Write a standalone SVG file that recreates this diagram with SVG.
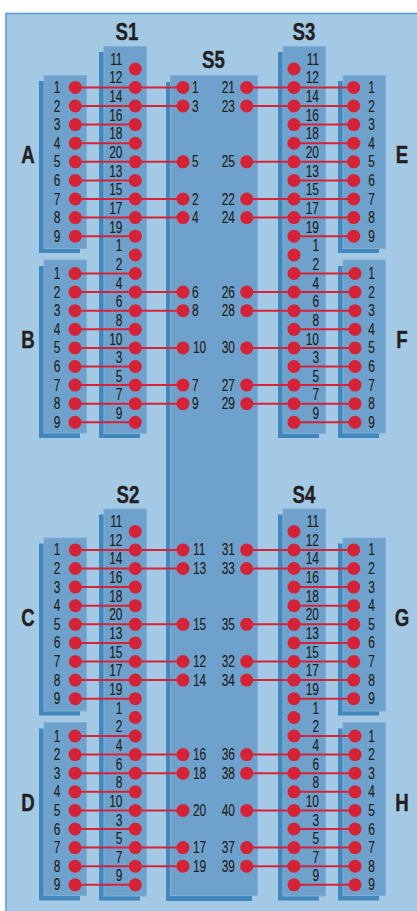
<svg xmlns="http://www.w3.org/2000/svg" width="417" height="911" viewBox="0 0 417 911">
<style>
.sh{fill:#4388bd}
.fr{fill:#6ea2cc;stroke:#7fafd6;stroke-width:1}
.d{fill:#d62237}
text{font-family:"Liberation Sans",Arial,sans-serif;fill:#231f20;transform-box:fill-box;stroke:#231f20;stroke-width:.2}
.n text{font-size:17px;text-anchor:middle;transform-origin:center;transform:scaleX(.7)}
.c text{font-size:17px;text-anchor:end;transform-origin:right center;transform:scaleX(.7)}
.l text{font-size:17px;text-anchor:start;transform-origin:left center;transform:scaleX(.7)}
.l .r text{text-anchor:end;transform-origin:right center}
g text.h{font-size:24.5px;font-weight:700;text-anchor:middle;transform-origin:center;transform:scaleX(.76);stroke-width:.4}
#connectors line{stroke:#d62237;stroke-width:2}
</style>
<rect width="417" height="911" fill="#fff"/>
<rect x="6" y="13.5" width="420" height="910" fill="#a4c9e4" stroke="#5b9dd0" stroke-width="1.6"/>
<g id="S5" class="l">
<rect class="sh" x="166" y="82" width="86" height="819"/>
<rect class="fr" x="170.5" y="75.5" width="87" height="820"/>
<text class="h" x="213.5" y="68.5">S5</text>
<circle class="d" cx="183" cy="87.4" r="6.5"/><circle class="d" cx="183" cy="106" r="6.5"/><circle class="d" cx="183" cy="161.8" r="6.5"/><circle class="d" cx="183" cy="199" r="6.5"/><circle class="d" cx="183" cy="217.6" r="6.5"/><circle class="d" cx="183" cy="292.1" r="6.5"/><circle class="d" cx="183" cy="310.7" r="6.5"/><circle class="d" cx="183" cy="347.9" r="6.5"/><circle class="d" cx="183" cy="385.1" r="6.5"/><circle class="d" cx="183" cy="403.7" r="6.5"/><circle class="d" cx="183" cy="549.9" r="6.5"/><circle class="d" cx="183" cy="568.5" r="6.5"/><circle class="d" cx="183" cy="624.3" r="6.5"/><circle class="d" cx="183" cy="661.5" r="6.5"/><circle class="d" cx="183" cy="680.1" r="6.5"/><circle class="d" cx="183" cy="754.6" r="6.5"/><circle class="d" cx="183" cy="773.2" r="6.5"/><circle class="d" cx="183" cy="810.4" r="6.5"/><circle class="d" cx="183" cy="847.6" r="6.5"/><circle class="d" cx="183" cy="866.2" r="6.5"/>
<circle class="d" cx="246.7" cy="87.4" r="6.5"/><circle class="d" cx="246.7" cy="106" r="6.5"/><circle class="d" cx="246.7" cy="161.8" r="6.5"/><circle class="d" cx="246.7" cy="199" r="6.5"/><circle class="d" cx="246.7" cy="217.6" r="6.5"/><circle class="d" cx="246.7" cy="292.1" r="6.5"/><circle class="d" cx="246.7" cy="310.7" r="6.5"/><circle class="d" cx="246.7" cy="347.9" r="6.5"/><circle class="d" cx="246.7" cy="385.1" r="6.5"/><circle class="d" cx="246.7" cy="403.7" r="6.5"/><circle class="d" cx="246.7" cy="549.9" r="6.5"/><circle class="d" cx="246.7" cy="568.5" r="6.5"/><circle class="d" cx="246.7" cy="624.3" r="6.5"/><circle class="d" cx="246.7" cy="661.5" r="6.5"/><circle class="d" cx="246.7" cy="680.1" r="6.5"/><circle class="d" cx="246.7" cy="754.6" r="6.5"/><circle class="d" cx="246.7" cy="773.2" r="6.5"/><circle class="d" cx="246.7" cy="810.4" r="6.5"/><circle class="d" cx="246.7" cy="847.6" r="6.5"/><circle class="d" cx="246.7" cy="866.2" r="6.5"/>
<text x="192" y="93">1</text><text x="192" y="111.6">3</text><text x="192" y="167.4">5</text><text x="192" y="204.6">2</text><text x="192" y="223.2">4</text><text x="192" y="297.7">6</text><text x="192" y="316.3">8</text><text x="193" y="353.5">10</text><text x="192" y="390.7">7</text><text x="192" y="409.3">9</text><text x="193" y="555.5">11</text><text x="193" y="574.1">13</text><text x="193" y="629.9">15</text><text x="193" y="667.1">12</text><text x="193" y="685.7">14</text><text x="193" y="760.2">16</text><text x="193" y="778.8">18</text><text x="193" y="816">20</text><text x="193" y="853.2">17</text><text x="193" y="871.8">19</text>
<g class="r"><text x="235" y="93">21</text><text x="235" y="111.6">23</text><text x="235" y="167.4">25</text><text x="235" y="204.6">22</text><text x="235" y="223.2">24</text><text x="235" y="297.7">26</text><text x="235" y="316.3">28</text><text x="235" y="353.5">30</text><text x="235" y="390.7">27</text><text x="235" y="409.3">29</text><text x="235" y="555.5">31</text><text x="235" y="574.1">33</text><text x="235" y="629.9">35</text><text x="235" y="667.1">32</text><text x="235" y="685.7">34</text><text x="235" y="760.2">36</text><text x="235" y="778.8">38</text><text x="235" y="816">40</text><text x="235" y="853.2">37</text><text x="235" y="871.8">39</text></g>
</g>
<g id="S1" class="c">
<rect class="sh" x="99" y="52" width="41" height="386"/>
<rect class="fr" x="104" y="46.5" width="42.5" height="387"/>
<text class="h" x="127" y="40.5">S1</text>
<text x="122.5" y="65">11</text><text x="122.5" y="83.4">12</text><text x="122.5" y="102">14</text><text x="122.5" y="120.8">16</text><text x="122.5" y="139.4">18</text><text x="122.5" y="158">20</text><text x="122.5" y="176.8">13</text><text x="122.5" y="195.4">15</text><text x="122.5" y="214">17</text><text x="122.5" y="232.8">19</text><text x="122.5" y="251.4">1</text><text x="122.5" y="270">2</text><text x="122.5" y="288.7">4</text><text x="122.5" y="307.3">6</text><text x="122.5" y="326">8</text><text x="122.5" y="344.6">10</text><text x="122.5" y="363.2">3</text><text x="122.5" y="381.8">5</text><text x="122.5" y="400.4">7</text><text x="122.5" y="419">9</text>
<circle class="d" cx="135.3" cy="69" r="6.5"/><circle class="d" cx="135.3" cy="87.4" r="6.5"/><circle class="d" cx="135.3" cy="106" r="6.5"/><circle class="d" cx="135.3" cy="124.6" r="6.5"/><circle class="d" cx="135.3" cy="143.2" r="6.5"/><circle class="d" cx="135.3" cy="161.8" r="6.5"/><circle class="d" cx="135.3" cy="180.4" r="6.5"/><circle class="d" cx="135.3" cy="199" r="6.5"/><circle class="d" cx="135.3" cy="217.6" r="6.5"/><circle class="d" cx="135.3" cy="236.2" r="6.5"/><circle class="d" cx="135.3" cy="255" r="6.5"/><circle class="d" cx="135.3" cy="273.5" r="6.5"/><circle class="d" cx="135.3" cy="292.1" r="6.5"/><circle class="d" cx="135.3" cy="310.7" r="6.5"/><circle class="d" cx="135.3" cy="329.3" r="6.5"/><circle class="d" cx="135.3" cy="347.9" r="6.5"/><circle class="d" cx="135.3" cy="366.5" r="6.5"/><circle class="d" cx="135.3" cy="385.1" r="6.5"/><circle class="d" cx="135.3" cy="403.7" r="6.5"/><circle class="d" cx="135.3" cy="422.3" r="6.5"/>
</g>
<g id="S3" class="c">
<rect class="sh" x="278" y="52" width="41" height="386"/>
<rect class="fr" x="283" y="46.5" width="42.5" height="387"/>
<text class="h" x="304" y="40.5">S3</text>
<text x="319" y="65">11</text><text x="319" y="83.4">12</text><text x="319" y="102">14</text><text x="319" y="120.8">16</text><text x="319" y="139.4">18</text><text x="319" y="158">20</text><text x="319" y="176.8">13</text><text x="319" y="195.4">15</text><text x="319" y="214">17</text><text x="319" y="232.8">19</text><text x="319" y="251.4">1</text><text x="319" y="270">2</text><text x="319" y="288.7">4</text><text x="319" y="307.3">6</text><text x="319" y="326">8</text><text x="319" y="344.6">10</text><text x="319" y="363.2">3</text><text x="319" y="381.8">5</text><text x="319" y="400.4">7</text><text x="319" y="419">9</text>
<circle class="d" cx="294" cy="69" r="6.5"/><circle class="d" cx="294" cy="87.4" r="6.5"/><circle class="d" cx="294" cy="106" r="6.5"/><circle class="d" cx="294" cy="124.6" r="6.5"/><circle class="d" cx="294" cy="143.2" r="6.5"/><circle class="d" cx="294" cy="161.8" r="6.5"/><circle class="d" cx="294" cy="180.4" r="6.5"/><circle class="d" cx="294" cy="199" r="6.5"/><circle class="d" cx="294" cy="217.6" r="6.5"/><circle class="d" cx="294" cy="236.2" r="6.5"/><circle class="d" cx="294" cy="255" r="6.5"/><circle class="d" cx="294" cy="273.5" r="6.5"/><circle class="d" cx="294" cy="292.1" r="6.5"/><circle class="d" cx="294" cy="310.7" r="6.5"/><circle class="d" cx="294" cy="329.3" r="6.5"/><circle class="d" cx="294" cy="347.9" r="6.5"/><circle class="d" cx="294" cy="366.5" r="6.5"/><circle class="d" cx="294" cy="385.1" r="6.5"/><circle class="d" cx="294" cy="403.7" r="6.5"/><circle class="d" cx="294" cy="422.3" r="6.5"/>
</g>
<g id="S2" class="c">
<rect class="sh" x="99" y="514.5" width="41" height="386"/>
<rect class="fr" x="104" y="509" width="42.5" height="387"/>
<text class="h" x="128" y="503">S2</text>
<text x="122.5" y="527.5">11</text><text x="122.5" y="545.9">12</text><text x="122.5" y="564.5">14</text><text x="122.5" y="583.3">16</text><text x="122.5" y="601.9">18</text><text x="122.5" y="620.5">20</text><text x="122.5" y="639.3">13</text><text x="122.5" y="657.9">15</text><text x="122.5" y="676.5">17</text><text x="122.5" y="695.3">19</text><text x="122.5" y="713.9">1</text><text x="122.5" y="732.5">2</text><text x="122.5" y="751.2">4</text><text x="122.5" y="769.8">6</text><text x="122.5" y="788.5">8</text><text x="122.5" y="807.1">10</text><text x="122.5" y="825.7">3</text><text x="122.5" y="844.3">5</text><text x="122.5" y="862.9">7</text><text x="122.5" y="881.5">9</text>
<circle class="d" cx="135.3" cy="531.5" r="6.5"/><circle class="d" cx="135.3" cy="549.9" r="6.5"/><circle class="d" cx="135.3" cy="568.5" r="6.5"/><circle class="d" cx="135.3" cy="587.1" r="6.5"/><circle class="d" cx="135.3" cy="605.7" r="6.5"/><circle class="d" cx="135.3" cy="624.3" r="6.5"/><circle class="d" cx="135.3" cy="642.9" r="6.5"/><circle class="d" cx="135.3" cy="661.5" r="6.5"/><circle class="d" cx="135.3" cy="680.1" r="6.5"/><circle class="d" cx="135.3" cy="698.7" r="6.5"/><circle class="d" cx="135.3" cy="717.5" r="6.5"/><circle class="d" cx="135.3" cy="736" r="6.5"/><circle class="d" cx="135.3" cy="754.6" r="6.5"/><circle class="d" cx="135.3" cy="773.2" r="6.5"/><circle class="d" cx="135.3" cy="791.8" r="6.5"/><circle class="d" cx="135.3" cy="810.4" r="6.5"/><circle class="d" cx="135.3" cy="829" r="6.5"/><circle class="d" cx="135.3" cy="847.6" r="6.5"/><circle class="d" cx="135.3" cy="866.2" r="6.5"/><circle class="d" cx="135.3" cy="884.8" r="6.5"/>
</g>
<g id="S4" class="c">
<rect class="sh" x="278" y="514.5" width="41" height="386"/>
<rect class="fr" x="283" y="509" width="42.5" height="387"/>
<text class="h" x="304" y="503">S4</text>
<text x="319" y="527.5">11</text><text x="319" y="545.9">12</text><text x="319" y="564.5">14</text><text x="319" y="583.3">16</text><text x="319" y="601.9">18</text><text x="319" y="620.5">20</text><text x="319" y="639.3">13</text><text x="319" y="657.9">15</text><text x="319" y="676.5">17</text><text x="319" y="695.3">19</text><text x="319" y="713.9">1</text><text x="319" y="732.5">2</text><text x="319" y="751.2">4</text><text x="319" y="769.8">6</text><text x="319" y="788.5">8</text><text x="319" y="807.1">10</text><text x="319" y="825.7">3</text><text x="319" y="844.3">5</text><text x="319" y="862.9">7</text><text x="319" y="881.5">9</text>
<circle class="d" cx="294" cy="531.5" r="6.5"/><circle class="d" cx="294" cy="549.9" r="6.5"/><circle class="d" cx="294" cy="568.5" r="6.5"/><circle class="d" cx="294" cy="587.1" r="6.5"/><circle class="d" cx="294" cy="605.7" r="6.5"/><circle class="d" cx="294" cy="624.3" r="6.5"/><circle class="d" cx="294" cy="642.9" r="6.5"/><circle class="d" cx="294" cy="661.5" r="6.5"/><circle class="d" cx="294" cy="680.1" r="6.5"/><circle class="d" cx="294" cy="698.7" r="6.5"/><circle class="d" cx="294" cy="717.5" r="6.5"/><circle class="d" cx="294" cy="736" r="6.5"/><circle class="d" cx="294" cy="754.6" r="6.5"/><circle class="d" cx="294" cy="773.2" r="6.5"/><circle class="d" cx="294" cy="791.8" r="6.5"/><circle class="d" cx="294" cy="810.4" r="6.5"/><circle class="d" cx="294" cy="829" r="6.5"/><circle class="d" cx="294" cy="847.6" r="6.5"/><circle class="d" cx="294" cy="866.2" r="6.5"/><circle class="d" cx="294" cy="884.8" r="6.5"/>
</g>
<g id="A" class="n">
<rect class="sh" x="39" y="81" width="41" height="172"/>
<rect class="fr" x="44" y="75.5" width="42.5" height="173"/>
<text class="h" x="28" y="163.5">A</text>
<text x="57" y="93">1</text><text x="57" y="111.6">2</text><text x="57" y="130.2">3</text><text x="57" y="148.8">4</text><text x="57" y="167.4">5</text><text x="57" y="186">6</text><text x="57" y="204.6">7</text><text x="57" y="223.2">8</text><text x="57" y="241.8">9</text>
<circle class="d" cx="75.3" cy="87.4" r="6.5"/><circle class="d" cx="75.3" cy="106" r="6.5"/><circle class="d" cx="75.3" cy="124.6" r="6.5"/><circle class="d" cx="75.3" cy="143.2" r="6.5"/><circle class="d" cx="75.3" cy="161.8" r="6.5"/><circle class="d" cx="75.3" cy="180.4" r="6.5"/><circle class="d" cx="75.3" cy="199" r="6.5"/><circle class="d" cx="75.3" cy="217.6" r="6.5"/><circle class="d" cx="75.3" cy="236.2" r="6.5"/>
</g>
<g id="B" class="n">
<rect class="sh" x="39" y="266" width="41" height="172"/>
<rect class="fr" x="44" y="260" width="42.5" height="173"/>
<text class="h" x="28" y="348">B</text>
<text x="57" y="279">1</text><text x="57" y="297.7">2</text><text x="57" y="316.3">3</text><text x="57" y="334.9">4</text><text x="57" y="353.5">5</text><text x="57" y="372.1">6</text><text x="57" y="390.7">7</text><text x="57" y="409.3">8</text><text x="57" y="427.9">9</text>
<circle class="d" cx="75" cy="273.5" r="6.5"/><circle class="d" cx="75" cy="292.1" r="6.5"/><circle class="d" cx="75" cy="310.7" r="6.5"/><circle class="d" cx="75" cy="329.3" r="6.5"/><circle class="d" cx="75" cy="347.9" r="6.5"/><circle class="d" cx="75" cy="366.5" r="6.5"/><circle class="d" cx="75" cy="385.1" r="6.5"/><circle class="d" cx="75" cy="403.7" r="6.5"/><circle class="d" cx="75" cy="422.3" r="6.5"/>
</g>
<g id="C" class="n">
<rect class="sh" x="39" y="543.5" width="41" height="172"/>
<rect class="fr" x="44" y="538" width="42.5" height="173"/>
<text class="h" x="28" y="626">C</text>
<text x="57" y="555.5">1</text><text x="57" y="574.1">2</text><text x="57" y="592.7">3</text><text x="57" y="611.3">4</text><text x="57" y="629.9">5</text><text x="57" y="648.5">6</text><text x="57" y="667.1">7</text><text x="57" y="685.7">8</text><text x="57" y="704.3">9</text>
<circle class="d" cx="75.3" cy="549.9" r="6.5"/><circle class="d" cx="75.3" cy="568.5" r="6.5"/><circle class="d" cx="75.3" cy="587.1" r="6.5"/><circle class="d" cx="75.3" cy="605.7" r="6.5"/><circle class="d" cx="75.3" cy="624.3" r="6.5"/><circle class="d" cx="75.3" cy="642.9" r="6.5"/><circle class="d" cx="75.3" cy="661.5" r="6.5"/><circle class="d" cx="75.3" cy="680.1" r="6.5"/><circle class="d" cx="75.3" cy="698.7" r="6.5"/>
</g>
<g id="D" class="n">
<rect class="sh" x="39" y="728.5" width="41" height="172"/>
<rect class="fr" x="44" y="722.5" width="42.5" height="173"/>
<text class="h" x="28" y="811">D</text>
<text x="57" y="741.6">1</text><text x="57" y="760.2">2</text><text x="57" y="778.8">3</text><text x="57" y="797.4">4</text><text x="57" y="816">5</text><text x="57" y="834.6">6</text><text x="57" y="853.2">7</text><text x="57" y="871.8">8</text><text x="57" y="890.4">9</text>
<circle class="d" cx="75" cy="736" r="6.5"/><circle class="d" cx="75" cy="754.6" r="6.5"/><circle class="d" cx="75" cy="773.2" r="6.5"/><circle class="d" cx="75" cy="791.8" r="6.5"/><circle class="d" cx="75" cy="810.4" r="6.5"/><circle class="d" cx="75" cy="829" r="6.5"/><circle class="d" cx="75" cy="847.6" r="6.5"/><circle class="d" cx="75" cy="866.2" r="6.5"/><circle class="d" cx="75" cy="884.8" r="6.5"/>
</g>
<g id="E" class="n">
<rect class="sh" x="338" y="81" width="41" height="172"/>
<rect class="fr" x="343" y="75.5" width="42.5" height="173"/>
<text class="h" x="402" y="163.5">E</text>
<text x="371.5" y="93">1</text><text x="371.5" y="111.6">2</text><text x="371.5" y="130.2">3</text><text x="371.5" y="148.8">4</text><text x="371.5" y="167.4">5</text><text x="371.5" y="186">6</text><text x="371.5" y="204.6">7</text><text x="371.5" y="223.2">8</text><text x="371.5" y="241.8">9</text>
<circle class="d" cx="353.7" cy="87.4" r="6.5"/><circle class="d" cx="353.7" cy="106" r="6.5"/><circle class="d" cx="353.7" cy="124.6" r="6.5"/><circle class="d" cx="353.7" cy="143.2" r="6.5"/><circle class="d" cx="353.7" cy="161.8" r="6.5"/><circle class="d" cx="353.7" cy="180.4" r="6.5"/><circle class="d" cx="353.7" cy="199" r="6.5"/><circle class="d" cx="353.7" cy="217.6" r="6.5"/><circle class="d" cx="353.7" cy="236.2" r="6.5"/>
</g>
<g id="F" class="n">
<rect class="sh" x="338" y="266" width="41" height="172"/>
<rect class="fr" x="343" y="260" width="42.5" height="173"/>
<text class="h" x="402" y="348">F</text>
<text x="371.5" y="279">1</text><text x="371.5" y="297.7">2</text><text x="371.5" y="316.3">3</text><text x="371.5" y="334.9">4</text><text x="371.5" y="353.5">5</text><text x="371.5" y="372.1">6</text><text x="371.5" y="390.7">7</text><text x="371.5" y="409.3">8</text><text x="371.5" y="427.9">9</text>
<circle class="d" cx="355" cy="273.5" r="6.5"/><circle class="d" cx="355" cy="292.1" r="6.5"/><circle class="d" cx="355" cy="310.7" r="6.5"/><circle class="d" cx="355" cy="329.3" r="6.5"/><circle class="d" cx="355" cy="347.9" r="6.5"/><circle class="d" cx="355" cy="366.5" r="6.5"/><circle class="d" cx="355" cy="385.1" r="6.5"/><circle class="d" cx="355" cy="403.7" r="6.5"/><circle class="d" cx="355" cy="422.3" r="6.5"/>
</g>
<g id="G" class="n">
<rect class="sh" x="338" y="543.5" width="41" height="172"/>
<rect class="fr" x="343" y="538" width="42.5" height="173"/>
<text class="h" x="402" y="626">G</text>
<text x="371.5" y="555.5">1</text><text x="371.5" y="574.1">2</text><text x="371.5" y="592.7">3</text><text x="371.5" y="611.3">4</text><text x="371.5" y="629.9">5</text><text x="371.5" y="648.5">6</text><text x="371.5" y="667.1">7</text><text x="371.5" y="685.7">8</text><text x="371.5" y="704.3">9</text>
<circle class="d" cx="353.7" cy="549.9" r="6.5"/><circle class="d" cx="353.7" cy="568.5" r="6.5"/><circle class="d" cx="353.7" cy="587.1" r="6.5"/><circle class="d" cx="353.7" cy="605.7" r="6.5"/><circle class="d" cx="353.7" cy="624.3" r="6.5"/><circle class="d" cx="353.7" cy="642.9" r="6.5"/><circle class="d" cx="353.7" cy="661.5" r="6.5"/><circle class="d" cx="353.7" cy="680.1" r="6.5"/><circle class="d" cx="353.7" cy="698.7" r="6.5"/>
</g>
<g id="H" class="n">
<rect class="sh" x="338" y="728.5" width="41" height="172"/>
<rect class="fr" x="343" y="722.5" width="42.5" height="173"/>
<text class="h" x="402" y="811">H</text>
<text x="371.5" y="741.6">1</text><text x="371.5" y="760.2">2</text><text x="371.5" y="778.8">3</text><text x="371.5" y="797.4">4</text><text x="371.5" y="816">5</text><text x="371.5" y="834.6">6</text><text x="371.5" y="853.2">7</text><text x="371.5" y="871.8">8</text><text x="371.5" y="890.4">9</text>
<circle class="d" cx="355" cy="736" r="6.5"/><circle class="d" cx="355" cy="754.6" r="6.5"/><circle class="d" cx="355" cy="773.2" r="6.5"/><circle class="d" cx="355" cy="791.8" r="6.5"/><circle class="d" cx="355" cy="810.4" r="6.5"/><circle class="d" cx="355" cy="829" r="6.5"/><circle class="d" cx="355" cy="847.6" r="6.5"/><circle class="d" cx="355" cy="866.2" r="6.5"/><circle class="d" cx="355" cy="884.8" r="6.5"/>
</g>
<g id="connectors">
<line x1="75" y1="87.4" x2="183" y2="87.4"/><line x1="75" y1="106" x2="183" y2="106"/><line x1="75" y1="124.6" x2="135" y2="124.6"/><line x1="75" y1="143.2" x2="135" y2="143.2"/><line x1="75" y1="161.8" x2="183" y2="161.8"/><line x1="75" y1="180.4" x2="135" y2="180.4"/><line x1="75" y1="199" x2="183" y2="199"/><line x1="75" y1="217.6" x2="183" y2="217.6"/><line x1="75" y1="236.2" x2="135" y2="236.2"/>
<line x1="75" y1="273.5" x2="135" y2="273.5"/><line x1="75" y1="292.1" x2="183" y2="292.1"/><line x1="75" y1="310.7" x2="183" y2="310.7"/><line x1="75" y1="329.3" x2="135" y2="329.3"/><line x1="75" y1="347.9" x2="183" y2="347.9"/><line x1="75" y1="366.5" x2="135" y2="366.5"/><line x1="75" y1="385.1" x2="183" y2="385.1"/><line x1="75" y1="403.7" x2="183" y2="403.7"/><line x1="75" y1="422.3" x2="135" y2="422.3"/>
<line x1="75" y1="549.9" x2="183" y2="549.9"/><line x1="75" y1="568.5" x2="183" y2="568.5"/><line x1="75" y1="587.1" x2="135" y2="587.1"/><line x1="75" y1="605.7" x2="135" y2="605.7"/><line x1="75" y1="624.3" x2="183" y2="624.3"/><line x1="75" y1="642.9" x2="135" y2="642.9"/><line x1="75" y1="661.5" x2="183" y2="661.5"/><line x1="75" y1="680.1" x2="183" y2="680.1"/><line x1="75" y1="698.7" x2="135" y2="698.7"/>
<line x1="75" y1="736" x2="135" y2="736"/><line x1="75" y1="754.6" x2="183" y2="754.6"/><line x1="75" y1="773.2" x2="183" y2="773.2"/><line x1="75" y1="791.8" x2="135" y2="791.8"/><line x1="75" y1="810.4" x2="183" y2="810.4"/><line x1="75" y1="829" x2="135" y2="829"/><line x1="75" y1="847.6" x2="183" y2="847.6"/><line x1="75" y1="866.2" x2="183" y2="866.2"/><line x1="75" y1="884.8" x2="135" y2="884.8"/>
<line x1="247" y1="87.4" x2="354" y2="87.4"/><line x1="247" y1="106" x2="354" y2="106"/><line x1="294" y1="124.6" x2="354" y2="124.6"/><line x1="294" y1="143.2" x2="354" y2="143.2"/><line x1="247" y1="161.8" x2="354" y2="161.8"/><line x1="294" y1="180.4" x2="354" y2="180.4"/><line x1="247" y1="199" x2="354" y2="199"/><line x1="247" y1="217.6" x2="354" y2="217.6"/><line x1="294" y1="236.2" x2="354" y2="236.2"/>
<line x1="294" y1="273.5" x2="355" y2="273.5"/><line x1="247" y1="292.1" x2="355" y2="292.1"/><line x1="247" y1="310.7" x2="355" y2="310.7"/><line x1="294" y1="329.3" x2="355" y2="329.3"/><line x1="247" y1="347.9" x2="355" y2="347.9"/><line x1="294" y1="366.5" x2="355" y2="366.5"/><line x1="247" y1="385.1" x2="355" y2="385.1"/><line x1="247" y1="403.7" x2="355" y2="403.7"/><line x1="294" y1="422.3" x2="355" y2="422.3"/>
<line x1="247" y1="549.9" x2="354" y2="549.9"/><line x1="247" y1="568.5" x2="354" y2="568.5"/><line x1="294" y1="587.1" x2="354" y2="587.1"/><line x1="294" y1="605.7" x2="354" y2="605.7"/><line x1="247" y1="624.3" x2="354" y2="624.3"/><line x1="294" y1="642.9" x2="354" y2="642.9"/><line x1="247" y1="661.5" x2="354" y2="661.5"/><line x1="247" y1="680.1" x2="354" y2="680.1"/><line x1="294" y1="698.7" x2="354" y2="698.7"/>
<line x1="294" y1="736" x2="355" y2="736"/><line x1="247" y1="754.6" x2="355" y2="754.6"/><line x1="247" y1="773.2" x2="355" y2="773.2"/><line x1="294" y1="791.8" x2="355" y2="791.8"/><line x1="247" y1="810.4" x2="355" y2="810.4"/><line x1="294" y1="829" x2="355" y2="829"/><line x1="247" y1="847.6" x2="355" y2="847.6"/><line x1="247" y1="866.2" x2="355" y2="866.2"/><line x1="294" y1="884.8" x2="355" y2="884.8"/>
</g>
</svg>
